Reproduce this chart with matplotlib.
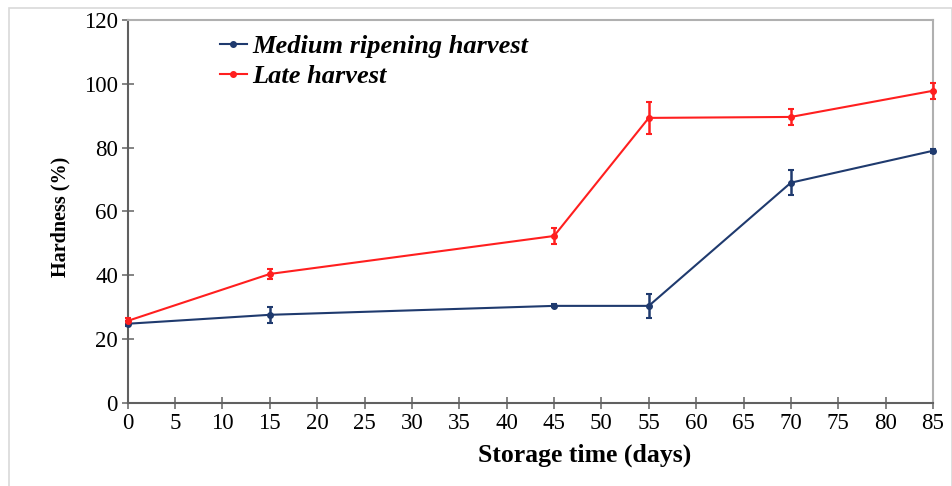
import matplotlib.pyplot as plt
from matplotlib.lines import Line2D

days = [0, 15, 45, 55, 70, 85]
medium = [24.8, 27.6, 30.4, 30.4, 69.0, 79.0]
medium_err = [0.8, 2.5, 0.5, 3.8, 4.0, 0.6]
late = [25.7, 40.4, 52.3, 89.3, 89.6, 97.8]
late_err = [1.0, 1.5, 2.5, 5.0, 2.5, 2.5]

blue = '#1f3a6e'
red = '#ff1f1f'

plt.rcParams['font.family'] = ['Liberation Serif', 'DejaVu Serif']

fig = plt.figure(figsize=(9.53, 4.86), dpi=100)
ax = fig.add_axes([0.134, 0.171, 0.845, 0.788])

# light border round the whole picture
fig.patches.append(plt.Rectangle((0.009, -0.01), 0.99, 0.994, transform=fig.transFigure,
                                 fill=False, edgecolor='#d9d9d9', linewidth=1.2))

ax.errorbar(days, medium, yerr=medium_err, color=blue, marker='o', markersize=4,
            linewidth=1.5, elinewidth=1.8, capsize=2.5, capthick=1.5,
            clip_on=False, zorder=3)
ax.errorbar(days, late, yerr=late_err, color=red, marker='o', markersize=4,
            linewidth=1.5, elinewidth=1.8, capsize=2.5, capthick=1.5,
            clip_on=False, zorder=3)

ax.set_xlim(0, 85)
ax.set_ylim(0, 120)
ax.set_xticks(range(0, 86, 5))
ax.set_yticks(range(0, 121, 20))
ax.tick_params(direction='inout', length=8, width=1.2, color='#707070',
               labelsize=16.5, pad=3)

for s in ['left', 'bottom']:
    ax.spines[s].set_color('#606060')
    ax.spines[s].set_linewidth(1.5)
for s in ['top', 'right']:
    ax.spines[s].set_color('#b0b0b0')
    ax.spines[s].set_linewidth(1.5)

ax.set_xlabel('Storage time (days)', fontsize=18.5, fontweight='bold')
ax.xaxis.set_label_coords(0.568, -0.105)
ax.set_ylabel('Hardness (%)', fontsize=14.5, fontweight='bold')
ax.yaxis.set_label_coords(-0.071, 0.485)

handles = [Line2D([], [], color=blue, marker='o', markersize=4, linewidth=1.5),
           Line2D([], [], color=red, marker='o', markersize=4, linewidth=1.5)]
ax.legend(handles, ['Medium ripening harvest', 'Late harvest'],
          loc='upper left', bbox_to_anchor=(0.101, 0.99), frameon=False,
          handlelength=1.05, handletextpad=0.2, labelspacing=0.25, borderaxespad=0,
          prop={'family': 'Liberation Serif', 'weight': 'bold', 'style': 'italic', 'size': 19})

fig.savefig('out.png', dpi=100)
